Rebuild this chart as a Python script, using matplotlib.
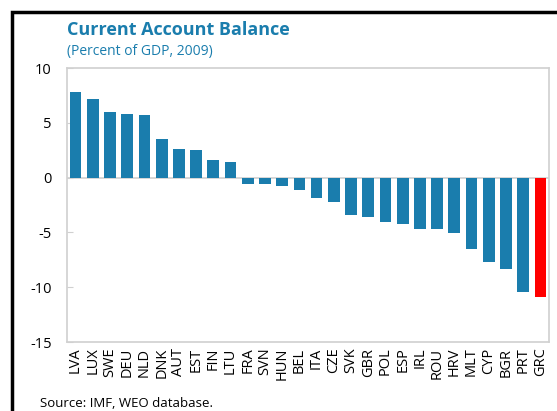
import matplotlib.pyplot as plt
from matplotlib.patches import Rectangle

countries = ['LVA', 'LUX', 'SWE', 'DEU', 'NLD', 'DNK', 'AUT', 'EST', 'FIN', 'LTU',
             'FRA', 'SVN', 'HUN', 'BEL', 'ITA', 'CZE', 'SVK', 'GBR', 'POL', 'ESP',
             'IRL', 'ROU', 'HRV', 'MLT', 'CYP', 'BGR', 'PRT', 'GRC']
balance = [7.8, 7.2, 6.0, 5.8, 5.75, 3.5, 2.6, 2.55, 1.6, 1.45,
           -0.55, -0.55, -0.75, -1.1, -1.85, -2.2, -3.4, -3.55, -4.05, -4.25,
           -4.65, -4.65, -5.1, -6.55, -7.7, -8.35, -10.4, -10.85]
highlight = 'GRC'

blue = '#1a7dad'
red = '#ff0000'
grey = '#d0d0d0'

plt.rcParams['font.family'] = ['Open Sans', 'DejaVu Sans']

fig = plt.figure(figsize=(5.57, 4.11), dpi=100)
ax = fig.add_axes([67 / 557, 1 - 342 / 411, 482 / 557, 274 / 411])

colors = [red if c == highlight else blue for c in countries]
ax.bar(range(len(countries)), balance, width=0.68, color=colors, zorder=2)
ax.axhline(0, color=grey, linewidth=1.2, zorder=1)

ax.set_xlim(-0.5, len(countries) - 0.5)
ax.set_ylim(-15, 10)
ax.set_yticks([-15, -10, -5, 0, 5, 10])
ax.set_yticklabels(['-15', '-10', '-5', '0', '5', '10'])
ax.set_xticks(range(len(countries)))
ax.set_xticklabels(countries, rotation=90, fontsize=10.5)
ax.tick_params(axis='y', direction='in', length=4, color=grey, labelsize=10.5, pad=11)
ax.tick_params(axis='x', length=0, pad=4)
for s in ax.spines.values():
    s.set_color(grey)
    s.set_linewidth(1.2)

fig.text(67 / 557, 1 - 30 / 411, 'Current Account Balance', color=blue,
         fontsize=13, fontweight='bold', va='center')
fig.text(67 / 557, 1 - 51 / 411, '(Percent of GDP, 2009)', color=blue,
         fontsize=10, va='center')
fig.text(40 / 557, 1 - 403 / 411, 'Source: IMF, WEO database.', fontsize=9.5,
         va='center')

# black frame around the panel
fig.patches.append(Rectangle((12 / 557, -0.1), 1.2, 1 - 12 / 411 + 0.1,
                             transform=fig.transFigure, fill=False,
                             edgecolor='black', linewidth=2.5))

fig.savefig('out.png', dpi=100)
